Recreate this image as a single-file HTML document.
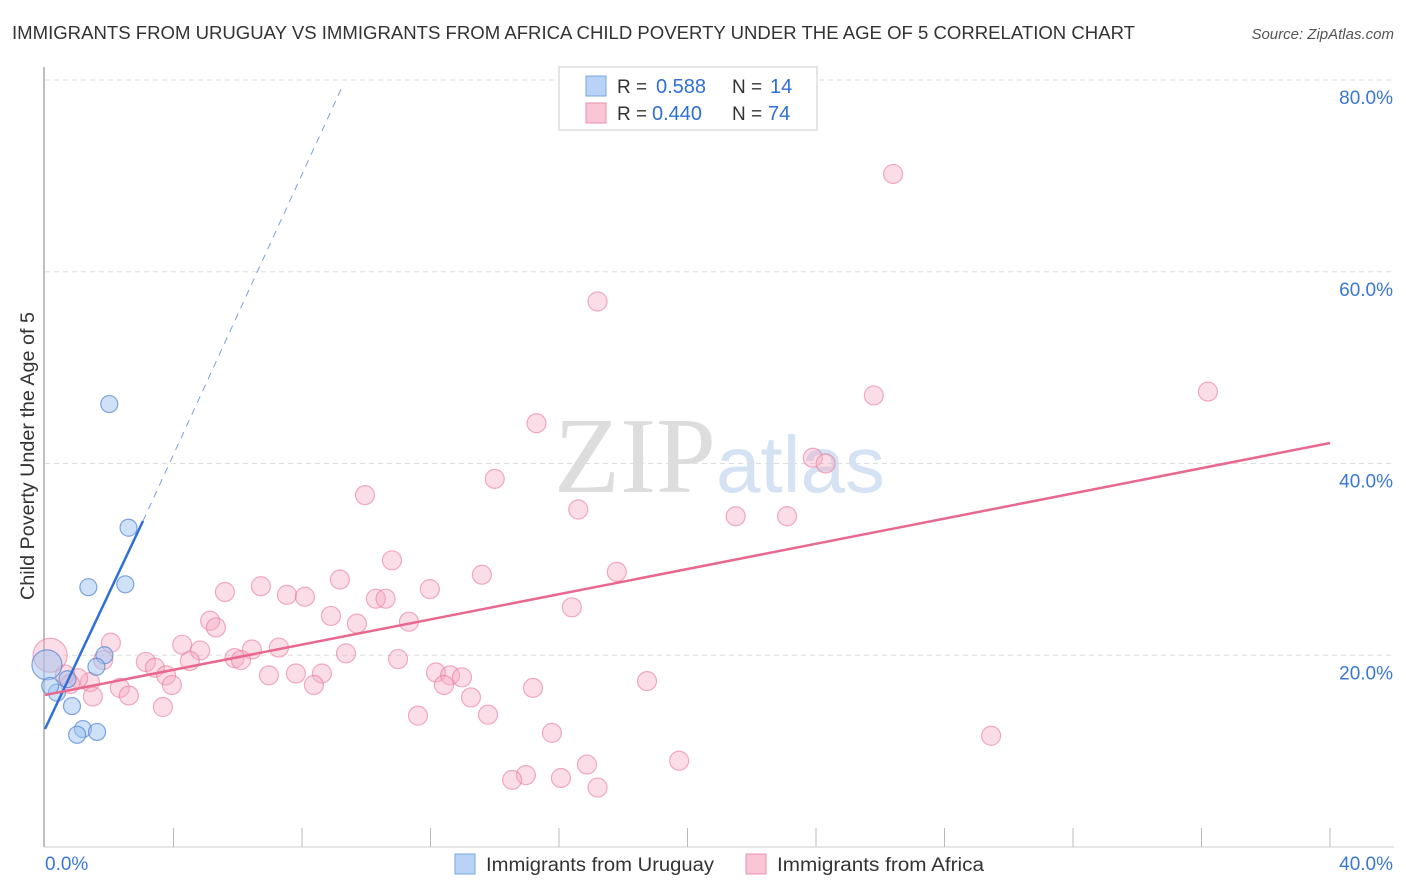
<!DOCTYPE html>
<html><head><meta charset="utf-8"><style>
body{margin:0;background:#fff;font-family:"Liberation Sans",sans-serif;}
svg{display:block}
</style></head><body>
<svg id="c" width="1406" height="892">
<text x="12" y="39" font-size="18" fill="#333" textLength="1123" lengthAdjust="spacingAndGlyphs">IMMIGRANTS FROM URUGUAY VS IMMIGRANTS FROM AFRICA CHILD POVERTY UNDER THE AGE OF 5 CORRELATION CHART</text>
<text x="1394" y="39" font-size="15" fill="#555" font-style="italic" text-anchor="end">Source: ZipAtlas.com</text>
<text x="34" y="456" font-size="19" fill="#333" text-anchor="middle" transform="rotate(-90 34 456)" textLength="288" lengthAdjust="spacingAndGlyphs">Child Poverty Under the Age of 5</text>
<text x="716" y="492" font-size="108" fill="#ddd" text-anchor="end" font-family="Liberation Serif,serif">ZIP</text>
<text x="716" y="492" font-size="80" fill="#d4e2f4">atlas</text>
<g id="grid"></g><g id="marks"></g><g id="lines"></g>
<g>
<rect x="559" y="67" width="258" height="63" fill="#fff" stroke="#ccc"/>
<rect x="586" y="76" width="20" height="20" fill="#b9d3f6" stroke="#7aa4e0"/>
<rect x="586" y="103" width="20" height="20" fill="#f9c6d5" stroke="#ec8fad"/>
<text x="617" y="93" font-size="19" fill="#333">R =</text><text x="656" y="93" font-size="20" fill="#2f6fd6">0.588</text>
<text x="732" y="93" font-size="19" fill="#333">N =</text><text x="770" y="93" font-size="20" fill="#2f6fd6">14</text>
<text x="617" y="120" font-size="19" fill="#333">R =</text><text x="652" y="120" font-size="20" fill="#2f6fd6">0.440</text>
<text x="732" y="120" font-size="19" fill="#333">N =</text><text x="768" y="120" font-size="20" fill="#2f6fd6">74</text>
</g>
<g>
<rect x="455" y="854" width="20" height="20" fill="#b9d3f6" stroke="#7aa4e0"/>
<text x="486" y="871" font-size="19" fill="#333" textLength="228" lengthAdjust="spacingAndGlyphs">Immigrants from Uruguay</text>
<rect x="746" y="854" width="20" height="20" fill="#f9c6d5" stroke="#ec8fad"/>
<text x="777" y="871" font-size="19" fill="#333" textLength="207" lengthAdjust="spacingAndGlyphs">Immigrants from Africa</text>
</g>
</svg>
<script>
const yTicks=[20,40,60,80];
const xTickLabels=["0.0%","40.0%"];
const uruguayX=[2.0,2.6,1.35,2.5,1.85,1.6,0.06,0.7,0.37,0.84,1.18,1.0,1.62,0.16];
const uruguayY=[46.2,33.3,27.1,27.4,20.0,18.8,19.0,17.5,16.1,14.7,12.3,11.7,12.0,16.8];
const africaX=[26.4,17.2,36.2,25.8,15.3,23.9,24.3,14.0,9.96,16.6,21.5,23.1,10.8,17.8,13.6,9.18,6.72,5.6,7.53,8.09,11.98,10.3,10.6,16.4,8.9,5.14,5.32,11.33,9.71,2.05,4.27,7.28,6.44,4.83,9.37,5.9,6.1,3.14,4.51,1.81,10.99,3.42,12.17,12.61,12.98,8.62,7.81,6.97,3.77,18.74,3.95,12.42,8.37,2.33,15.19,1.4,1.03,0.62,0.78,1.49,2.61,13.26,3.67,11.61,13.79,15.78,29.45,19.74,16.87,14.97,14.54,16.06,17.2,0.16];
const africaY=[70.2,56.9,47.5,47.1,44.2,40.6,40.0,38.4,36.7,35.2,34.5,34.5,29.9,28.7,28.4,27.9,27.2,26.6,26.3,26.1,26.9,25.9,25.9,25.0,24.1,23.6,22.9,23.5,23.3,21.3,21.1,20.8,20.6,20.5,20.2,19.7,19.5,19.3,19.4,19.5,19.6,18.7,18.2,17.9,17.7,18.1,18.1,17.9,17.9,17.3,16.9,16.9,16.9,16.6,16.6,17.2,17.6,18.0,17.0,15.7,15.8,15.6,14.6,13.7,13.8,11.9,11.6,9.0,8.6,7.5,7.0,7.2,6.2,20.0];
const X=v=>45+v*32.125, Y=v=>847-v*9.5875;
const NS='http://www.w3.org/2000/svg';
function mk(t,a,p){const e=document.createElementNS(NS,t);for(const k in a)e.setAttribute(k,a[k]);document.getElementById(p).appendChild(e);return e;}
let ax=mk('line',{x1:44,y1:67,x2:44,y2:847,stroke:'#aaa','stroke-width':1.5},'grid');


let bx=mk('line',{x1:44,y1:847,x2:1394,y2:847,stroke:'#ccc','stroke-width':1},'grid');


for(let i=1;i<=10;i++){let t=mk('line',{x1:X(i*4),y1:828,x2:X(i*4),y2:847,stroke:'#bbb'},'grid');

}
yTicks.forEach(v=>{let g=mk('line',{x1:45,y1:Y(v),x2:1394,y2:Y(v),stroke:'#ddd','stroke-dasharray':'5,4'},'grid');


let t=mk('text',{x:1393,y:Y(v)+24,'font-size':19,fill:'#3a78d4','text-anchor':'end'},'grid');t.textContent=v.toFixed(1)+'%';

});
let xl=mk('text',{x:45,y:870,'font-size':19,fill:'#3a78d4'},'grid');xl.textContent=xTickLabels[0];


let xr=mk('text',{x:1393,y:870,'font-size':19,fill:'#3a78d4','text-anchor':'end'},'grid');xr.textContent=xTickLabels[1];


africaX.forEach((x,i)=>{let r=(i==africaX.length-1)?17:9.5;let c=mk('circle',{cx:X(x),cy:Y(africaY[i]),r:r,fill:'rgba(246,170,195,0.4)',stroke:'rgba(232,120,155,0.6)','stroke-width':1.2},'marks');

});
uruguayX.forEach((x,i)=>{let r=(i==6)?15:8.5;let c=mk('circle',{cx:X(x),cy:Y(uruguayY[i]),r:r,fill:'rgba(160,195,240,0.5)',stroke:'rgba(80,130,210,0.7)','stroke-width':1.2},'marks');

});
let l1=mk('line',{x1:45,y1:729,x2:143,y2:521,stroke:'#2f6fd6','stroke-width':2.5},'lines');


let l2=mk('line',{x1:143,y1:521,x2:343,y2:85,stroke:'#7aa0dd','stroke-width':1,'stroke-dasharray':'7,6'},'lines');


let l3=mk('line',{x1:45,y1:695,x2:1330,y2:443,stroke:'#e8688f','stroke-width':2.5},'lines');


</script>
</body></html>
